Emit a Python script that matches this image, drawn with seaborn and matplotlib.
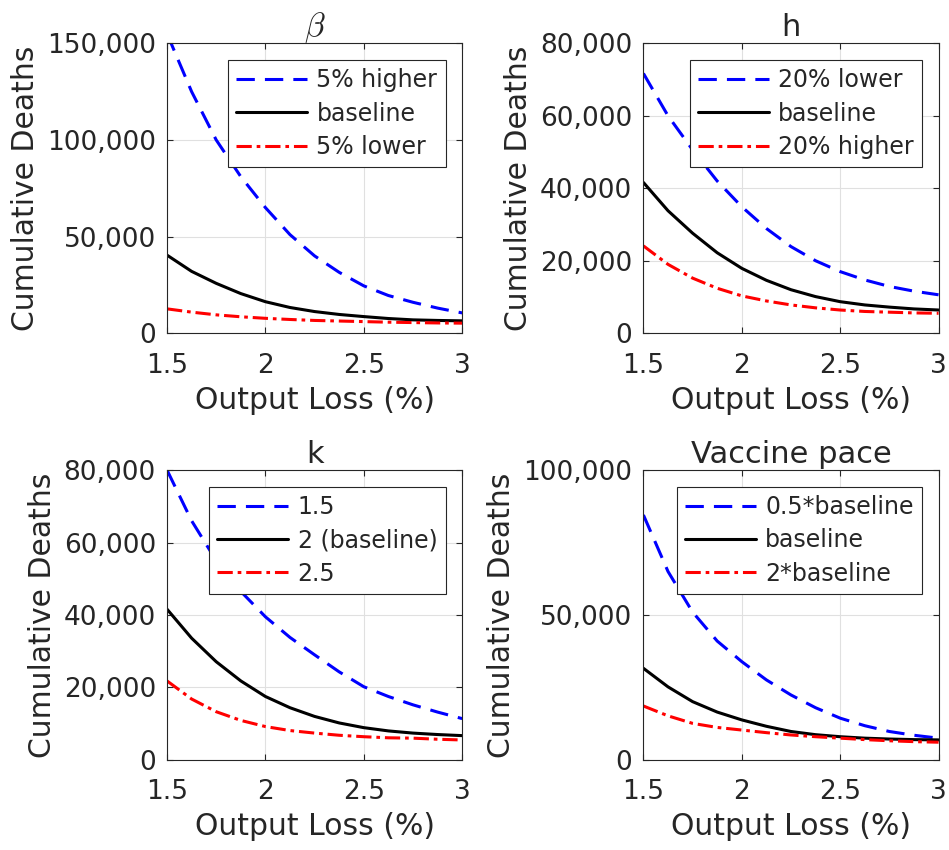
import matplotlib
matplotlib.use("Agg")
import matplotlib.pyplot as plt
import matplotlib.ticker as mticker
import seaborn as sns

# output loss (%) grid
loss = [1.5, 1.625, 1.75, 1.875, 2.0, 2.125, 2.25, 2.375, 2.5, 2.625, 2.75, 2.875, 3.0]

# beta panel
beta_high = [155000, 125000, 100000, 81000, 65000, 51000, 40000, 31500, 24500, 19500, 16000, 13000, 10500]
beta_base = [40400, 32000, 25800, 20500, 16300, 13300, 11200, 9700, 8600, 7600, 6900, 6600, 6400]
beta_low = [12600, 10900, 9500, 8500, 7700, 7100, 6600, 6300, 6000, 5700, 5500, 5300, 5200]

# h panel
h_low = [71700, 60000, 50600, 42000, 34900, 28900, 23900, 20000, 17000, 14700, 12900, 11600, 10600]
h_base = [41600, 33800, 27600, 22200, 17900, 14600, 12000, 10100, 8700, 7800, 7200, 6700, 6400]
h_high = [24100, 19000, 15200, 12400, 10300, 8900, 7800, 7000, 6400, 6000, 5800, 5600, 5500]

# k panel
k_15 = [80000, 66000, 55000, 46500, 39500, 33800, 29000, 24300, 20200, 17500, 15200, 13200, 11400]
k_2 = [41600, 33600, 27100, 21800, 17500, 14400, 12000, 10200, 8900, 8000, 7400, 7000, 6700]
k_25 = [21800, 16800, 13300, 10900, 9200, 8100, 7400, 6800, 6400, 6100, 6000, 5700, 5500]

# vaccine pace panel
vac_half = [84500, 65000, 51000, 41000, 33900, 27600, 22400, 18000, 14400, 11800, 9800, 8500, 7500]
vac_base = [31600, 25200, 20100, 16500, 13800, 11600, 9800, 8700, 8000, 7500, 7200, 7000, 6900]
vac_double = [18600, 15200, 12600, 11200, 10300, 9400, 8600, 8000, 7500, 7000, 6600, 6300, 6100]

panels = [
    (r"$\beta$", [beta_high, beta_base, beta_low], ["5% higher", "baseline", "5% lower"], 150000, [0, 50000, 100000, 150000]),
    ("h", [h_low, h_base, h_high], ["20% lower", "baseline", "20% higher"], 80000, [0, 20000, 40000, 60000, 80000]),
    ("k", [k_15, k_2, k_25], ["1.5", "2 (baseline)", "2.5"], 80000, [0, 20000, 40000, 60000, 80000]),
    ("Vaccine pace", [vac_half, vac_base, vac_double], ["0.5*baseline", "baseline", "2*baseline"], 100000, [0, 50000, 100000]),
]

colors = ["#0000ff", "#000000", "#ff0000"]
dash_patterns = [(6, 3.3), (None, None), (5, 1.6, 1.2, 1.6)]

sns.set_style("ticks")
plt.rcParams["font.family"] = ["DejaVu Sans"]
plt.rcParams["mathtext.fontset"] = "cm"

fig = plt.figure(figsize=(9.49, 8.5), dpi=100)
positions = [
    [0.176, 0.608, 0.311, 0.341],
    [0.678, 0.608, 0.311, 0.341],
    [0.176, 0.106, 0.311, 0.341],
    [0.678, 0.106, 0.311, 0.341],
]

for pos, (title, series, labels, ymax, yticks) in zip(positions, panels):
    ax = fig.add_axes(pos)
    for vals, lab, c, dp in zip(series, labels, colors, dash_patterns):
        line = sns.lineplot(x=loss, y=vals, ax=ax, color=c, linewidth=2.2, label=lab).lines[-1]
        if dp[0] is not None:
            line.set_dashes(dp)
    ax.set_xlim(1.5, 3)
    ax.set_ylim(0, ymax)
    ax.set_xticks([1.5, 2, 2.5, 3])
    ax.set_xticklabels(["1.5", "2", "2.5", "3"])
    ax.set_yticks(yticks)
    ax.yaxis.set_major_formatter(mticker.FuncFormatter(lambda v, p: f"{int(v):,}"))
    ax.grid(True, color="#e0e0e0", linewidth=0.8)
    ax.tick_params(direction="in", top=True, right=True, labelsize=19, colors="#262626", length=4)
    ax.tick_params(axis="x", pad=14)
    ax.tick_params(axis="y", pad=8)
    for s in ax.spines.values():
        s.set_color("#262626")
        s.set_linewidth(0.8)
    ax.set_xlabel("Output Loss (%)", fontsize=21.5, color="#262626", labelpad=5)
    ax.set_ylabel("Cumulative Deaths", fontsize=21.5, color="#262626", labelpad=5)
    ax.set_title(title, fontsize=24 if title.startswith("$") else 22, pad=5)
    leg = ax.legend(loc="upper right", fontsize=17, frameon=True, fancybox=False,
                    edgecolor="#262626", handlelength=3.0, borderaxespad=0.7,
                    labelspacing=0.4, handletextpad=0.4, borderpad=0.35)
    leg.get_frame().set_linewidth(0.8)
    leg.get_frame().set_alpha(1)

fig.savefig("out.png", dpi=100)
